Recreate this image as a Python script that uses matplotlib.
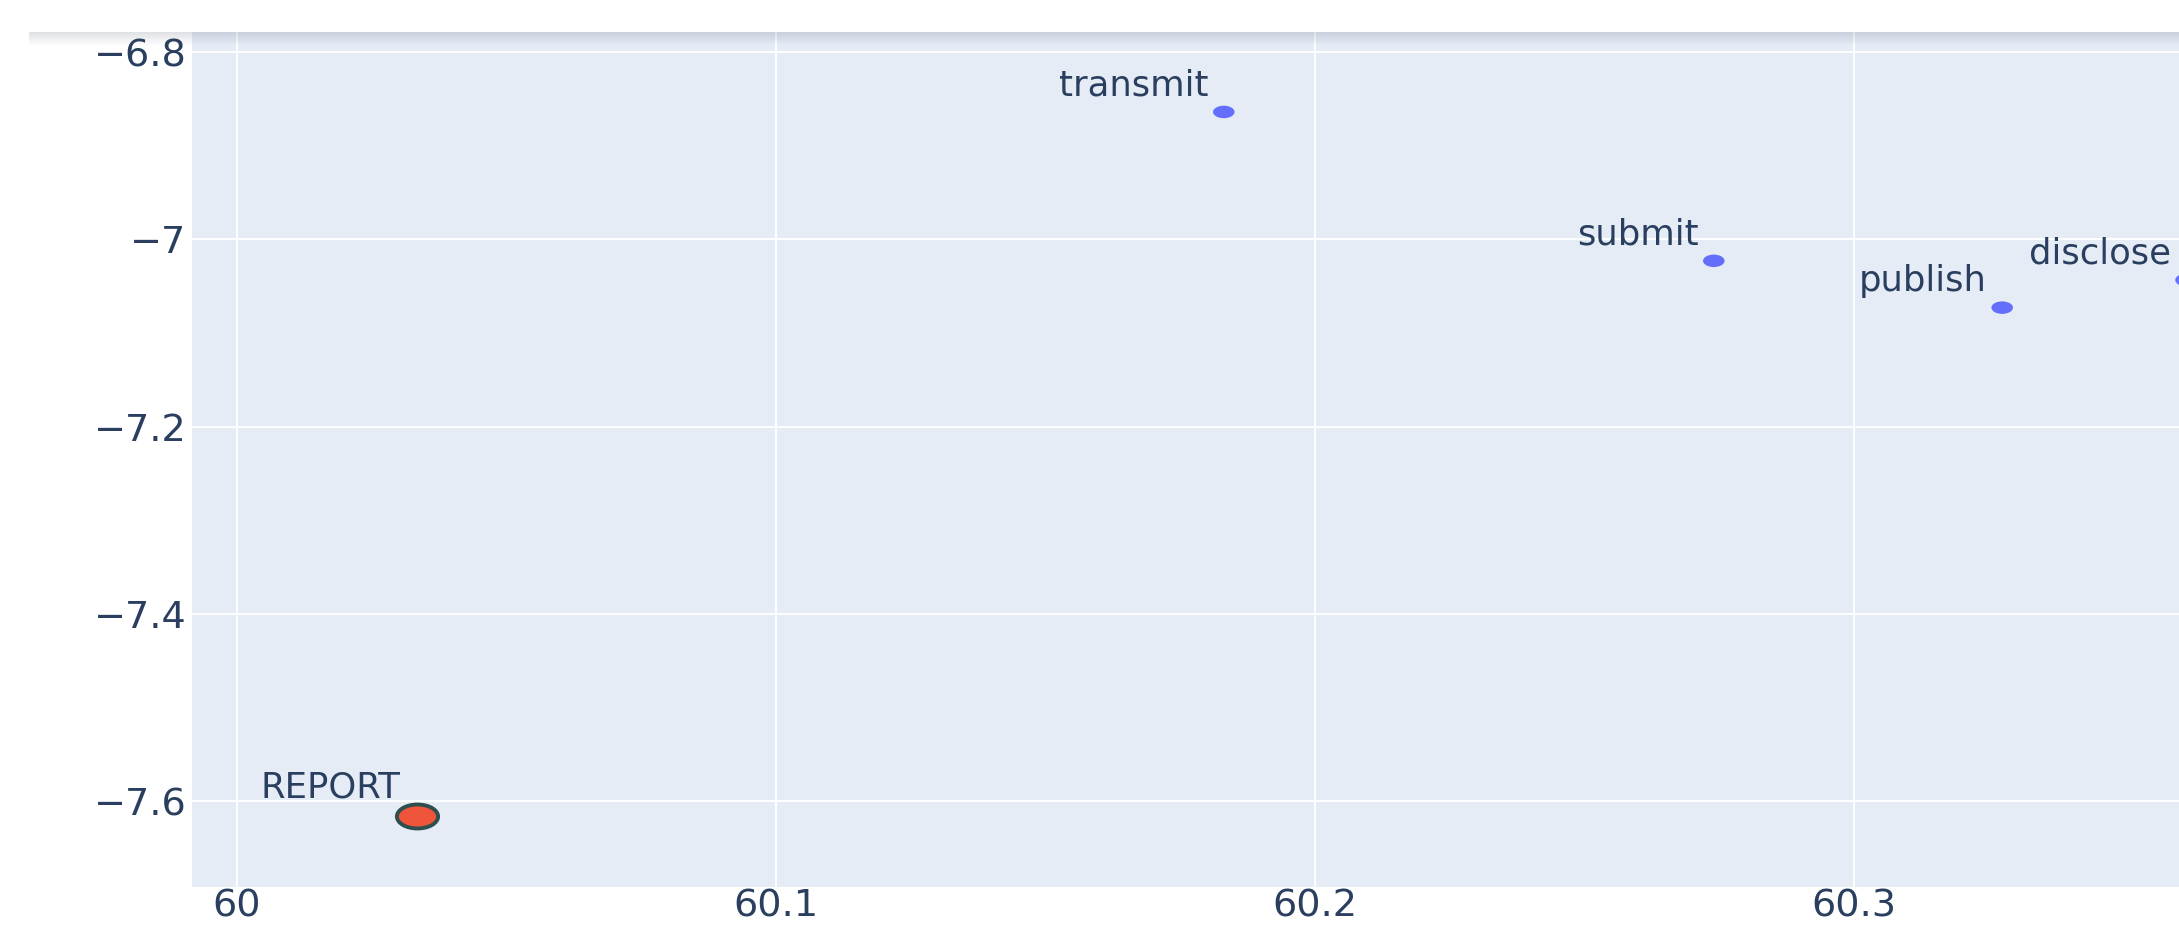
import matplotlib
matplotlib.use("Agg")
import matplotlib.pyplot as plt
import numpy as np
from matplotlib.path import Path
from matplotlib.ticker import FixedLocator, FuncFormatter

plt.rcParams["font.family"] = ["DejaVu Sans"]

# words around the target word
words = ["transmit", "submit", "publish", "disclose"]
word_x = [60.1831, 60.2740, 60.3275, 60.3616]
word_y = [-6.864, -7.023, -7.073, -7.0435]

# the target word itself
target = "REPORT"
target_x = 60.0334
target_y = -7.616

x_ticks = [60, 60.1, 60.2, 60.3]
y_ticks = [-7.6, -7.4, -7.2, -7.0, -6.8]

W, H = 2179, 933
fig = plt.figure(figsize=(W / 100, H / 100), dpi=100)
fig.patch.set_facecolor("white")

ax = fig.add_axes([192 / W, 1 - 887 / H, 1 - 192 / W, (887 - 32) / H])
ax.set_facecolor("#E5ECF6")
for s in ax.spines.values():
    s.set_visible(False)

ax.set_xlim(59.9917, 60.3603)
ax.set_ylim(-7.6918, -6.7786)
ax.xaxis.set_major_locator(FixedLocator(x_ticks))
ax.yaxis.set_major_locator(FixedLocator(y_ticks))
fmt = FuncFormatter(lambda v, p: ("%g" % round(v, 3)).replace("-", "\u2212"))
ax.xaxis.set_major_formatter(fmt)
ax.yaxis.set_major_formatter(fmt)
ax.tick_params(length=0, labelsize=27.5, labelcolor="#2a3f5f")
ax.tick_params(axis="x", pad=1)
ax.tick_params(axis="y", pad=4)
ax.grid(True, color="white", linewidth=1.3)
ax.set_axisbelow(True)

# the picture is stretched sideways, so the dots are flat ellipses
circ = Path.unit_circle()
ellipse = Path(circ.vertices * np.array([1.72, 1.0]), circ.codes)

ax.scatter(word_x, word_y, s=240, marker=ellipse, color="#636EFA",
           edgecolors="none", zorder=3, clip_on=False)
for w, x, y in zip(words, word_x, word_y):
    ax.annotate(w, (x, y), xytext=(-11, 12), textcoords="offset points",
                ha="right", va="baseline", fontsize=25.5, color="#2a3f5f",
                annotation_clip=False)

ax.scatter([target_x], [target_y], s=880, marker=ellipse, color="#EF553B",
           edgecolors="#2F4F4F", linewidths=2.8, zorder=4)
ax.annotate(target, (target_x, target_y), xytext=(-12, 13),
            textcoords="offset points", ha="right", va="baseline",
            fontsize=25.5, color="#2a3f5f")

# soft shadow along the top edge
sh = fig.add_axes([29 / W, 1 - 46 / H, 1 - 29 / W, 14 / H], zorder=10)
grad = np.linspace(0.16, 0.0, 50).reshape(-1, 1) * np.ones((1, 10))
rgba = np.zeros((50, 10, 4))
rgba[..., 0] = 0.2
rgba[..., 1] = 0.25
rgba[..., 2] = 0.35
rgba[..., 3] = grad
sh.imshow(rgba, aspect="auto", extent=[0, 1, 0, 1])
sh.axis("off")

fig.savefig("out.png", dpi=100)
